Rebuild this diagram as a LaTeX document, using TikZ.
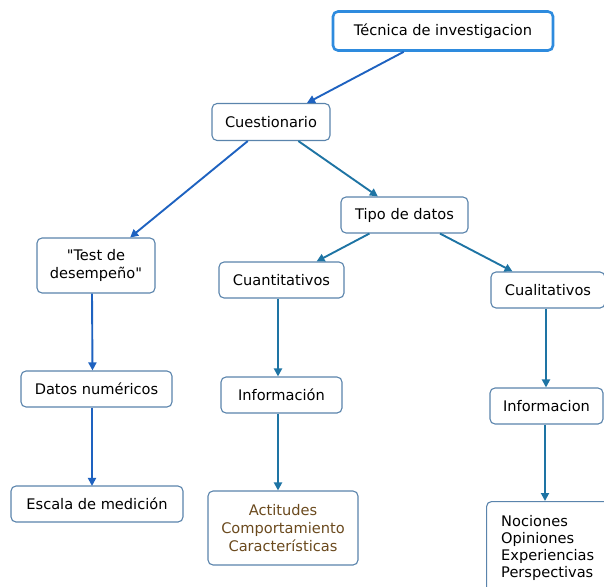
\documentclass[tikz,border=0pt]{standalone}
\usepackage{fontspec}
\setmainfont{DejaVu Sans}[Ligatures=TeXOff]
\usetikzlibrary{arrows.meta}
\definecolor{boxb}{HTML}{5A84AC}
\definecolor{topb}{HTML}{2E8BDE}
\definecolor{arrblue}{HTML}{1E62C0}
\definecolor{arrteal}{HTML}{1E74A4}
\definecolor{brownt}{HTML}{6B4A1E}
\tikzset{
  cbox/.style={draw=boxb, line width=1.1pt, rounded corners=5pt, fill=white,
    inner sep=0pt, align=center, font=\fontsize{14.6}{18}\selectfont},
  topbox/.style={cbox, draw=topb, line width=2.6pt},
  conn/.style={line width=1.9pt, -{Triangle[length=8pt,width=8pt]}},
  cb/.style={conn, draw=arrblue, -{Triangle[length=8pt,width=8pt,fill=arrblue]}},
  ct/.style={conn, draw=arrteal, -{Triangle[length=8pt,width=8pt,fill=arrteal]}},
}
\begin{document}
\begin{tikzpicture}[x=1pt,y=-1pt]
\useasboundingbox (0,0) rectangle (604,586);
\node[topbox, minimum width=220pt, minimum height=39pt] (tec) at (443,31) {Técnica de investigacion};
\node[cbox, minimum width=118pt, minimum height=37pt] (cue) at (271,122) {Cuestionario};
\node[cbox, minimum width=127pt, minimum height=36pt] (tipo) at (404.5,215) {Tipo de datos};
\node[cbox, minimum width=118pt, minimum height=55pt] (test) at (96,265.5) {"Test de\\desempeño"};
\node[cbox, minimum width=125pt, minimum height=36pt] (cuan) at (281.5,280) {Cuantitativos};
\node[cbox, minimum width=114pt, minimum height=36pt] (cual) at (548,290) {Cualitativos};
\node[cbox, minimum width=151pt, minimum height=36pt] (dat) at (96.5,389) {Datos numéricos};
\node[cbox, minimum width=121pt, minimum height=36pt] (inf) at (281.5,395) {Información};
\node[cbox, minimum width=113pt, minimum height=36pt] (infc) at (546.5,406) {Informacion};
\node[cbox, minimum width=172pt, minimum height=36pt] (esc) at (97,504) {Escala de medición};
\node[cbox, minimum width=150pt, minimum height=74pt, text=brownt] (act) at (283,528) {Actitudes\\Comportamiento\\Características};
\node[cbox, anchor=north west, minimum width=130pt, minimum height=100pt] (noc) at (486,501) {};
\node[anchor=base west, inner sep=0pt, align=left, font=\fontsize{14.6}{17.2}\selectfont] (noct) at (501,577.6) {Nociones\\Opiniones\\Experiencias\\Perspectivas};
\draw[cb] (tec) -- (cue);
\draw[cb] (cue) -- (test);
\draw[ct] (cue) -- (tipo);
\draw[ct] (tipo) -- (cuan);
\draw[ct] (tipo) -- (cual);
\draw[cb] ([xshift=-4pt]test.south) -- ([xshift=-4pt]dat.north);
\draw[cb] ([xshift=-4.5pt]dat.south) -- ([xshift=-4.5pt,yshift=-0.5pt]dat.south |- esc.north);
\draw[ct] ([xshift=-3.5pt]cuan.south) -- ([xshift=-3.5pt]cuan.south |- inf.north);
\draw[ct] ([xshift=-3.5pt]inf.south) -- ([xshift=-3.5pt]inf.south |- act.north);
\draw[ct] ([xshift=-2pt]cual.south) -- ([xshift=-2pt]cual.south |- infc.north);
\draw[ct] ([xshift=-1.5pt]infc.south) -- ([xshift=-1.5pt]infc.south |- noc.north);
\end{tikzpicture}
\end{document}
